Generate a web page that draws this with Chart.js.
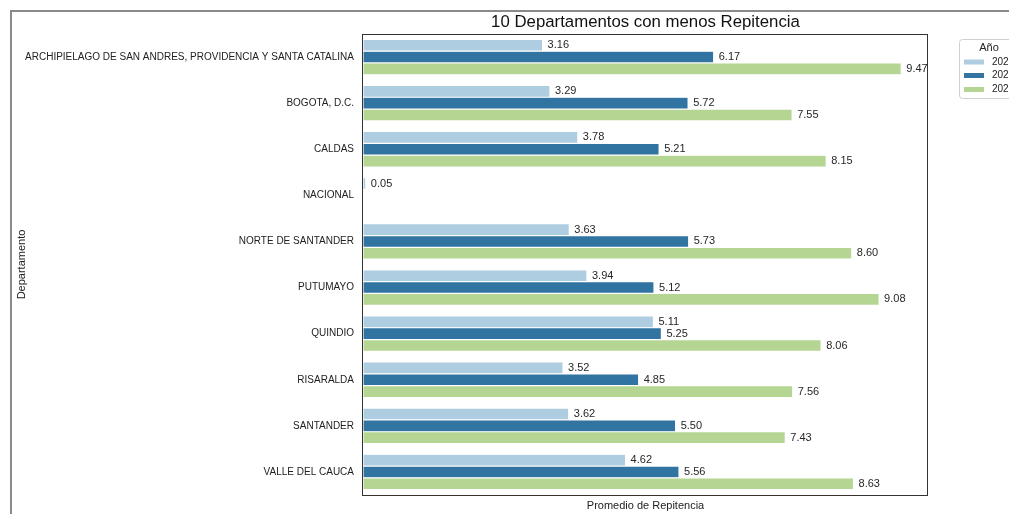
<!DOCTYPE html>
<html>
<head>
<meta charset="utf-8">
<script src="https://cdn.jsdelivr.net/npm/chart.js@4"></script>
<style>
  html, body { margin: 0; padding: 0; background: #fff; overflow: hidden; }
  #wrap { position: relative; width: 1009px; height: 514px; }
</style>
</head>
<body>
<div id="wrap"><canvas id="chart" width="1009" height="514"></canvas></div>
<script>
const departamentos = [
    'ARCHIPIELAGO DE SAN ANDRES, PROVIDENCIA Y SANTA CATALINA',
    'BOGOTA, D.C.',
    'CALDAS',
    'NACIONAL',
    'NORTE DE SANTANDER',
    'PUTUMAYO',
    'QUINDIO',
    'RISARALDA',
    'SANTANDER',
    'VALLE DEL CAUCA'
];
const anios = ['2021', '2022', '2023'];
const valores2021 = [3.16, 3.29, 3.78, 0.05, 3.63, 3.94, 5.11, 3.52, 3.62, 4.62];
const valores2022 = [6.17, 5.72, 5.21, null, 5.73, 5.12, 5.25, 4.85, 5.50, 5.56];
const valores2023 = [9.47, 7.55, 8.15, null, 8.60, 9.08, 8.06, 7.56, 7.43, 8.63];
const colores = ['#aecde1', '#3274a1', '#b5d693'];

const FONT = '"Liberation Sans", Arial, sans-serif';

const extras = {
    id: 'extras',
    afterDatasetsDraw(chart) {
        const ctx = chart.ctx;
        const area = chart.chartArea;
        ctx.save();
        // value labels
        ctx.font = '11px ' + FONT;
        ctx.fillStyle = '#262626';
        ctx.textAlign = 'left';
        ctx.textBaseline = 'middle';
        chart.data.datasets.forEach((ds, i) => {
            chart.getDatasetMeta(i).data.forEach((bar, j) => {
                const v = ds.data[j];
                if (v === null || v === undefined) return;
                ctx.fillText(v.toFixed(2), bar.x + 5, bar.y);
            });
        });
        // plot frame
        ctx.strokeStyle = '#333';
        ctx.lineWidth = 1;
        ctx.strokeRect(area.left - 0.5, area.top + 0.5, area.right - area.left, area.bottom - area.top);
        // title
        ctx.fillStyle = '#111';
        ctx.textAlign = 'center';
        ctx.textBaseline = 'middle';
        ctx.font = '16.8px ' + FONT;
        ctx.fillText('10 Departamentos con menos Repitencia', (area.left + area.right) / 2, 22);
        // x axis title
        ctx.font = '11px ' + FONT;
        ctx.fillStyle = '#222';
        ctx.fillText('Promedio de Repitencia', (area.left + area.right) / 2, 506);
        // y axis title
        ctx.save();
        ctx.translate(22, (area.top + area.bottom) / 2);
        ctx.rotate(-Math.PI / 2);
        ctx.fillText('Departamento', 0, 0);
        ctx.restore();
        // legend
        ctx.fillStyle = '#fff';
        ctx.strokeStyle = '#d0d0d0';
        ctx.lineWidth = 1;
        ctx.beginPath();
        ctx.roundRect(959.5, 39.5, 80, 59, 3);
        ctx.fill();
        ctx.stroke();
        ctx.fillStyle = '#222';
        ctx.font = '11px ' + FONT;
        ctx.textAlign = 'center';
        ctx.fillText('Año', 989, 48);
        ctx.textAlign = 'left';
        ctx.font = '10px ' + FONT;
        const ys = [62, 75.5, 89.5];
        anios.forEach((a, i) => {
            ctx.fillStyle = colores[i];
            ctx.fillRect(964, ys[i] - 2.5, 20, 5);
            ctx.fillStyle = '#222';
            ctx.fillText(a, 992, ys[i]);
        });
        // outer figure frame
        ctx.strokeStyle = '#8a8a8a';
        ctx.lineWidth = 2;
        ctx.strokeRect(11, 11, 1100, 600);
        ctx.restore();
    }
};

new Chart(document.getElementById('chart').getContext('2d'), {
    type: 'bar',
    data: {
        labels: departamentos,
        datasets: [valores2021, valores2022, valores2023].map((vals, i) => ({
            label: anios[i],
            data: vals,
            backgroundColor: colores[i],
            borderColor: '#ffffff',
            borderWidth: 0.6,
            borderSkipped: false,
            categoryPercentage: 0.77,
            barPercentage: 1.0
        }))
    },
    options: {
        indexAxis: 'y',
        responsive: false,
        animation: false,
        layout: { padding: { top: 34, right: 81, bottom: 0, left: 0 } },
        plugins: { legend: { display: false }, tooltip: { enabled: false } },
        scales: {
            x: {
                min: 0,
                max: 9.94,
                grid: { display: false, drawTicks: false },
                border: { display: false },
                ticks: { display: false },
                afterFit(scale) { scale.height = 19; }
            },
            y: {
                grid: { display: false, drawTicks: false },
                border: { display: false },
                ticks: {
                    color: '#222',
                    padding: 9,
                    font: { family: FONT, size: 10 }
                },
                afterFit(scale) { scale.width = 363; }
            }
        }
    },
    plugins: [extras]
});
</script>
</body>
</html>
